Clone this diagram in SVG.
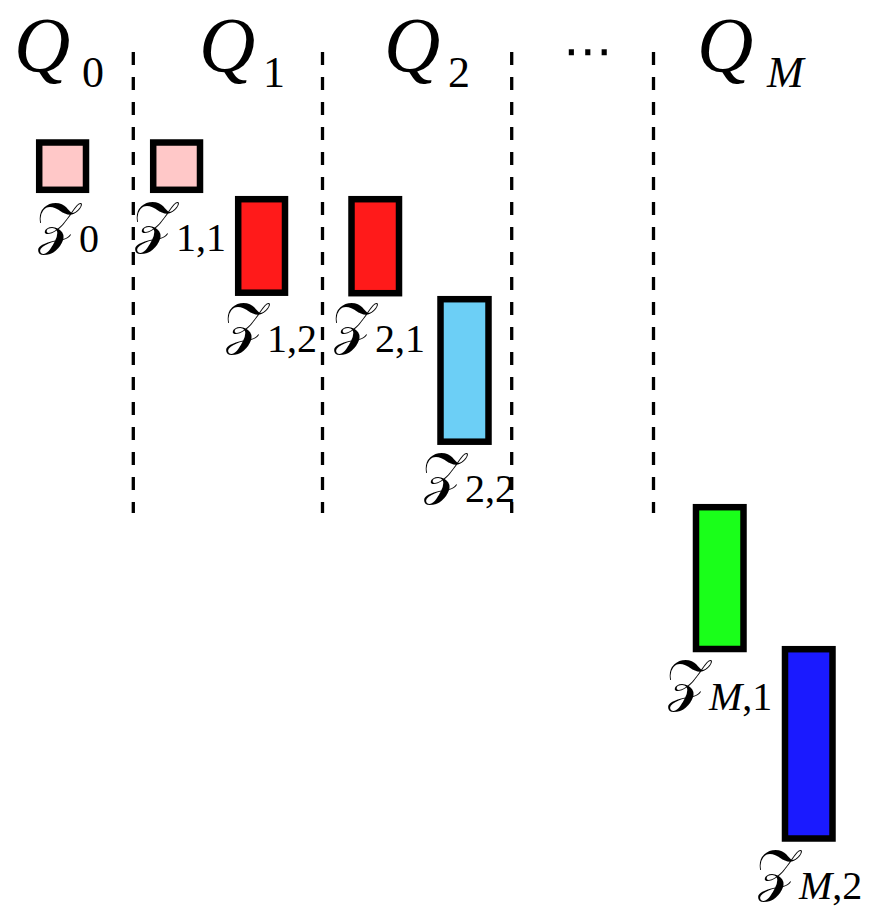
<svg xmlns="http://www.w3.org/2000/svg" width="883" height="922" viewBox="0 0 883 922">
<style>
.q{font-family:"Liberation Serif","DejaVu Serif",serif;font-style:italic;font-size:78px;fill:#000}
.qs{font-style:normal;font-size:44px}
.qsi{font-style:italic;font-size:44px}
.z{font-family:"Liberation Serif","DejaVu Serif",serif;font-size:40px;fill:#000}
.zg{font-family:"DejaVu Sans","Noto Sans","Liberation Serif",serif;font-size:57px}
.zsi{font-style:italic}
.box{stroke:#000;stroke-width:6.5}
.dash{stroke:#000;stroke-width:3.3;stroke-dasharray:13 12;fill:none}
</style>
<rect width="883" height="922" fill="#fff"/>
<g id="headers">
<text class="q"><tspan x="14" y="71">Q</tspan><tspan class="qs" x="82" y="87">0</tspan></text>
<text class="q"><tspan x="199" y="71">Q</tspan><tspan class="qs" x="263" y="87">1</tspan></text>
<text class="q"><tspan x="384" y="71">Q</tspan><tspan class="qs" x="448" y="87">2</tspan></text>
<text x="588" y="68" text-anchor="middle" font-family="DejaVu Sans" font-size="50">⋯</text>
<text class="q"><tspan x="697" y="71">Q</tspan><tspan class="qsi" x="767" y="87">M</tspan></text>
</g>
<g id="connectors">
<line class="dash" x1="133.3" y1="52" x2="133.3" y2="513"/>
<line class="dash" x1="322.5" y1="52" x2="322.5" y2="513"/>
<line class="dash" x1="511.7" y1="52" x2="511.7" y2="513"/>
<line class="dash" x1="653.5" y1="52" x2="653.5" y2="513"/>
</g>
<g id="Z0">
<rect class="box" x="39.2" y="142.5" width="46.8" height="47.3" fill="#FFC8C8"/>
<text class="z" x="36" y="243"><tspan class="zg">𝒵</tspan><tspan dy="9">0</tspan></text>
</g>
<g id="Z11">
<rect class="box" x="153.2" y="142.5" width="46.8" height="47.3" fill="#FFC8C8"/>
<text class="z" x="133" y="242"><tspan class="zg">𝒵</tspan><tspan dy="9">1,1</tspan></text>
</g>
<g id="Z12">
<rect class="box" x="238.2" y="199.2" width="46.8" height="93.5" fill="#FF1A1A"/>
<text class="z" x="224" y="343"><tspan class="zg">𝒵</tspan><tspan dy="9">1,2</tspan></text>
</g>
<g id="Z21">
<rect class="box" x="351.5" y="199.2" width="47.5" height="94" fill="#FF1A1A"/>
<text class="z" x="332" y="343"><tspan class="zg">𝒵</tspan><tspan dy="9">2,1</tspan></text>
</g>
<g id="Z22">
<rect class="box" x="440.5" y="299.2" width="48" height="142.5" fill="#6CCFF6"/>
<text class="z" x="422" y="493"><tspan class="zg">𝒵</tspan><tspan dy="9">2,2</tspan></text>
</g>
<g id="ZM1">
<rect class="box" x="696" y="507.2" width="47.5" height="141.8" fill="#1AFF1A"/>
<text class="z" x="666" y="700"><tspan class="zg">𝒵</tspan><tspan dy="10"><tspan class="zsi">M</tspan>,1</tspan></text>
</g>
<g id="ZM2">
<rect class="box" x="785" y="649.2" width="47.5" height="189.3" fill="#1A1AFF"/>
<text class="z" x="756" y="890"><tspan class="zg">𝒵</tspan><tspan dy="9"><tspan class="zsi">M</tspan>,2</tspan></text>
</g>
</svg>
